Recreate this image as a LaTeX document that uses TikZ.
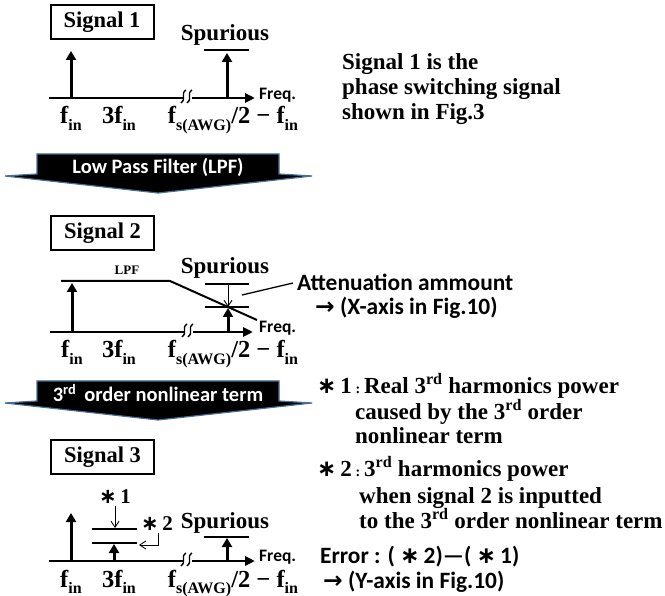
\documentclass[tikz,border=0pt]{standalone}
\usepackage{fontspec}
\setmainfont{Liberation Serif}
\newfontfamily\calfont{Carlito}
\newfontfamily\symfont{DejaVu Sans}
\usetikzlibrary{arrows.meta}
\newcommand\ssub[1]{\raisebox{-0.28em}{\fontsize{16}{16}\selectfont #1}}
\newcommand\astk{{\symfont\bfseries ∗}}
\begin{document}
\begin{tikzpicture}[x=1pt,y=-1pt,
  sigbox/.style={draw, line width=2pt, minimum width=103pt, minimum height=34pt, inner sep=0pt, font=\fontsize{22.5}{22.5}\selectfont\bfseries},
  serif/.style={font=\fontsize{23}{23}\selectfont\bfseries, inner sep=0pt},
  sans/.style={font=\fontsize{23.4}{23.4}\selectfont\calfont\bfseries, inner sep=0pt},
  freq/.style={font=\fontsize{17.5}{17.5}\selectfont\calfont\bfseries, inner sep=0pt, anchor=west},
  lab/.style={font=\fontsize{24.5}{24.5}\selectfont\bfseries, inner sep=0pt, anchor=base},
  axis/.style={line width=2.6pt, -{Triangle[length=10pt,width=9pt]}},
  spike/.style={line width=3pt, -{Triangle[length=9pt,width=10pt]}},
  bar/.style={line width=1.6pt},
  thin/.style={line width=0.9pt, -{Straight Barb[length=6pt,width=8pt]}},
  banner/.style={fill=black, draw={rgb,255:red,70;green,110;blue,150}, line width=1.2pt},
  bannertext/.style={font=\fontsize{20.5}{20.5}\selectfont\calfont\bfseries, text=white, inner sep=0pt},
  brk/.style={line width=1.4pt},
  gap/.style={fill=white, draw=none}
]
\useasboundingbox (0,0) rectangle (665,596);

% ---------- Signal 1 ----------
\node[sigbox] (s1) at (102,22.5) {Signal 1};
\node[serif] (sp1) at (225,35) {Spurious};
\coordinate (a1s) at (49,98);
\coordinate (a1e) at (255,98);
\draw[axis] (a1s) -- (a1e);
\node[freq] (fq1) at (259,95) {Freq.};
\fill[gap] (182.5,95) rectangle (191.5,101);
\draw[brk] (186,90) .. controls (180,94) and (187,98) .. (181,103);
\draw[brk] (192,90) .. controls (186,94) and (193,98) .. (187,103);
\coordinate (f1b) at (71,98); \coordinate (f1t) at (71,51);
\draw[spike] (f1b) -- (f1t);
\coordinate (sp1b) at (227,98); \coordinate (sp1t) at (227,53);
\draw[spike] (sp1b) -- (sp1t);
\draw[bar] (204,50) -- (249,50);
\node[lab] (l1a) at (71,124) {f\ssub{in}};
\node[lab] (l1b) at (119,124) {3f\ssub{in}};
\node[lab] (l1c) at (233,124) {f\ssub{s(AWG)}/2 − f\ssub{in}};

\node[serif, anchor=mid west] (t1) at (342,67) {Signal 1 is the};
\node[serif, anchor=mid west] (t2) at (342,92) {phase switching signal};
\node[serif, anchor=mid west] (t3) at (342,117) {shown in Fig.3};

% ---------- Banner 1 ----------
\draw[banner] (37,154) -- (279,154) -- (279,174) -- (312,176) -- (158,193) -- (5,176) -- (37,174) -- cycle;
\node[bannertext] (b1) at (158,167) {Low Pass Filter (LPF)};

% ---------- Signal 2 ----------
\node[sigbox] (s2) at (102.5,233) {Signal 2};
\node[font=\fontsize{13}{13}\selectfont\bfseries, inner sep=0pt] (lpf) at (127,270) {LPF};
\node[serif] (sp2) at (225,268) {Spurious};
\draw[line width=2pt] (61,281) -- (170,281) -- (257,320);
\draw[axis] (50,332) -- (253,332);
\node[freq] (fq2) at (259,328) {Freq.};
\fill[gap] (183.5,329) rectangle (192.5,335);
\draw[brk] (187,324) .. controls (181,328) and (188,332) .. (182,337);
\draw[brk] (193,324) .. controls (187,328) and (194,332) .. (188,337);
\draw[spike] (72,332) -- (72,283);
\draw[bar] (205,284) -- (249,284);
\draw[bar] (205,307) -- (249,307);
\coordinate (att1) at (228,284); \coordinate (att2) at (228,307);
\draw[thin] (att1) -- (att2);
\draw[spike] (228,332) -- (228,308);
\coordinate (ld1) at (242,295); \coordinate (ld2) at (293,283);
\draw[line width=1.3pt] (ld1) -- (ld2);
\node[sans, anchor=mid west] (att) at (297,288) {Attenuation ammount};
\node[sans, anchor=mid west] (xax) at (315,312) {{\symfont\bfseries →} (X-axis in Fig.10)};
\node[lab] (l2a) at (72,358) {f\ssub{in}};
\node[lab] (l2b) at (119,358) {3f\ssub{in}};
\node[lab] (l2c) at (233,358) {f\ssub{s(AWG)}/2 − f\ssub{in}};

% ---------- Banner 2 ----------
\draw[banner] (37,381) -- (279,381) -- (279,401) -- (312,403) -- (158,420) -- (5,403) -- (37,401) -- cycle;
\node[bannertext] (b2) at (158,393) {3\textsuperscript{rd}\, order nonlinear term};

% ---------- Signal 3 ----------
\node[sigbox] (s3) at (102.5,457.5) {Signal 3};
\draw[axis] (49,561) -- (255,561);
\node[freq] (fq3) at (259,557) {Freq.};
\fill[gap] (182.5,558) rectangle (191.5,564);
\draw[brk] (186,553) .. controls (180,557) and (187,561) .. (181,566);
\draw[brk] (192,553) .. controls (186,557) and (193,561) .. (187,566);
\draw[spike] (71,561) -- (71,513);
\draw[bar] (92,529) -- (137,529);
\draw[bar] (92,543) -- (137,543);
\draw[spike] (114,561) -- (114,544);
\node[font=\fontsize{21}{21}\selectfont\bfseries, inner sep=0pt] (st1) at (115,497) {\astk\,1};
\draw[thin] (115,506) -- (115,528);
\node[font=\fontsize{21}{21}\selectfont\bfseries, inner sep=0pt] (st2) at (157,524) {\astk\,2};
\draw[line width=0.9pt, -{Straight Barb[length=6pt,width=8pt]}] (158,533) |- (139,545);
\node[serif] (sp3) at (225,523) {Spurious};
\draw[bar] (204,537) -- (249,537);
\draw[spike] (227,561) -- (227,538);
\node[lab] (l3a) at (71,587) {f\ssub{in}};
\node[lab] (l3b) at (119,587) {3f\ssub{in}};
\node[lab] (l3c) at (233,587) {f\ssub{s(AWG)}/2 − f\ssub{in}};

% ---------- Notes ----------
\node[serif, anchor=mid west] (n1) at (317,391) {\astk\,1\,{\fontsize{14}{14}\selectfont:}\,Real 3\textsuperscript{rd} harmonics power};
\node[serif, anchor=mid west] (n2) at (355,417) {caused by the 3\textsuperscript{rd} order};
\node[serif, anchor=mid west] (n3) at (355,441) {nonlinear term};
\node[serif, anchor=mid west] (n4) at (317,474) {\astk\,2\,{\fontsize{14}{14}\selectfont:}\,3\textsuperscript{rd} harmonics power};
\node[serif, anchor=mid west] (n5) at (359,501) {when signal 2 is inputted};
\node[serif, anchor=mid west] (n6) at (359,526) {to the 3\textsuperscript{rd} order nonlinear term};
\node[sans, anchor=mid west] (err) at (320,561) {Error : ( \astk\,2)—( \astk\,1)};
\node[sans, anchor=mid west] (yax) at (323,586) {{\symfont\bfseries →} (Y-axis in Fig.10)};
\end{tikzpicture}
\end{document}
